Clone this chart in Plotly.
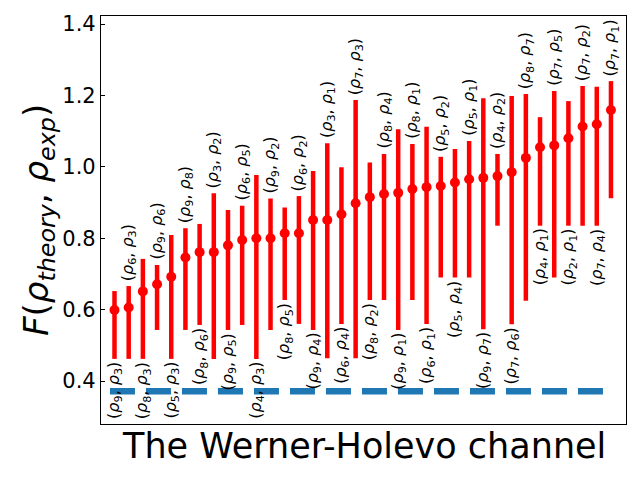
import plotly.graph_objects as go

# ---- data ----
pair_first = [9, 6, 8, 9, 5, 9, 8, 3, 9, 6, 4, 9, 8, 6, 9, 3, 6, 7, 8, 8, 9, 8, 6, 5, 5, 5, 9, 4, 7, 8, 4, 7, 2, 7, 7, 7]
pair_second = [3, 3, 3, 6, 3, 8, 6, 2, 5, 5, 3, 2, 5, 2, 4, 1, 4, 3, 2, 4, 1, 1, 1, 2, 4, 1, 7, 2, 6, 7, 1, 5, 1, 2, 4, 1]
fidelity = [0.599, 0.606, 0.651, 0.671, 0.692, 0.746, 0.761, 0.761, 0.780, 0.795, 0.800, 0.800,
            0.814, 0.814, 0.851, 0.851, 0.867, 0.898, 0.915, 0.924, 0.927, 0.938, 0.943, 0.946,
            0.956, 0.965, 0.969, 0.974, 0.985, 1.025, 1.055, 1.060, 1.080, 1.113, 1.119, 1.159]
upper = [0.652, 0.666, 0.742, 0.725, 0.809, 0.828, 0.840, 0.926, 0.879, 0.891, 0.977, 0.911,
         0.886, 0.918, 0.988, 1.066, 0.999, 1.187, 1.012, 1.036, 1.105, 1.064, 1.112, 1.028,
         1.050, 1.072, 1.192, 1.036, 1.198, 1.204, 1.139, 1.212, 1.184, 1.226, 1.224, 1.240]
lower = [0.462, 0.462, 0.462, 0.543, 0.462, 0.543, 0.557, 0.462, 0.543, 0.557, 0.462, 0.543,
         0.627, 0.560, 0.543, 0.464, 0.560, 0.464, 0.627, 0.627, 0.543, 0.627, 0.560, 0.690,
         0.690, 0.690, 0.545, 0.835, 0.559, 0.625, 0.835, 0.690, 0.835, 0.835, 0.835, 0.912]
threshold = 0.371
threshold_x = [-0.32, 35.21]
y_ticks = [0.4, 0.6, 0.8, 1.0, 1.2, 1.4]

x = list(range(len(fidelity)))
err_plus = [u - v for u, v in zip(upper, fidelity)]
err_minus = [v - l for v, l in zip(fidelity, lower)]

FONT = "DejaVu Sans"

fig = go.Figure()
fig.add_trace(go.Scatter(
    x=threshold_x, y=[threshold, threshold], mode="lines",
    line=dict(color="#1f77b4", width=6.5, dash="25px,11px"),
    showlegend=False, hoverinfo="skip"))
fig.add_trace(go.Scatter(
    x=x, y=fidelity, mode="markers",
    marker=dict(color="red", size=10),
    error_y=dict(type="data", symmetric=False, array=err_plus, arrayminus=err_minus,
                 color="red", thickness=4.5, width=0),
    showlegend=False))

annotations = []
for i, (a, b) in enumerate(zip(pair_first, pair_second)):
    txt = f"(<i>ρ</i><sub>{a}</sub>, <i>ρ</i><sub>{b}</sub>)"
    if i % 2 == 0:
        annotations.append(dict(x=x[i], y=lower[i], xref="x", yref="y", text=txt,
                                textangle=-90, showarrow=False, xanchor="center",
                                yanchor="top", yshift=-1,
                                font=dict(family=FONT, size=16, color="black")))
    else:
        annotations.append(dict(x=x[i], y=upper[i], xref="x", yref="y", text=txt,
                                textangle=-90, showarrow=False, xanchor="center",
                                yanchor="bottom", yshift=3,
                                font=dict(family=FONT, size=16, color="black")))

annotations.append(dict(x=0.5, y=0.0, xref="paper", yref="paper",
                        text="The Werner-Holevo channel", showarrow=False,
                        xanchor="center", yanchor="top",
                        font=dict(family=FONT, size=35, color="black")))
annotations.append(dict(x=-0.12, y=0.5, xref="paper", yref="paper",
                        text="<i>F</i>(<i>ρ</i><sub><i>theory</i></sub>, <i>ρ</i><sub><i>exp</i></sub>)",
                        textangle=-90, showarrow=False, xanchor="center", yanchor="middle",
                        font=dict(family=FONT, size=34, color="black")))

fig.update_layout(
    width=640, height=480,
    margin=dict(l=101, r=14, t=16, b=56),
    plot_bgcolor="white", paper_bgcolor="white",
    annotations=annotations,
    font=dict(family=FONT, color="black"),
)
fig.update_xaxes(range=[-0.952, 36.06], showline=True, mirror=True, linecolor="black",
                 linewidth=1.2, showgrid=False, zeroline=False, showticklabels=False, ticks="")
fig.update_yaxes(range=[0.2796, 1.4224], showline=True, mirror=True, linecolor="black",
                 linewidth=1.2, showgrid=False, zeroline=False, tickvals=y_ticks,
                 ticktext=[f"{v:.1f}" for v in y_ticks], ticks="inside", ticklen=4,
                 tickcolor="black", tickfont=dict(family=FONT, size=21, color="black"))

fig.write_html("out.html")
